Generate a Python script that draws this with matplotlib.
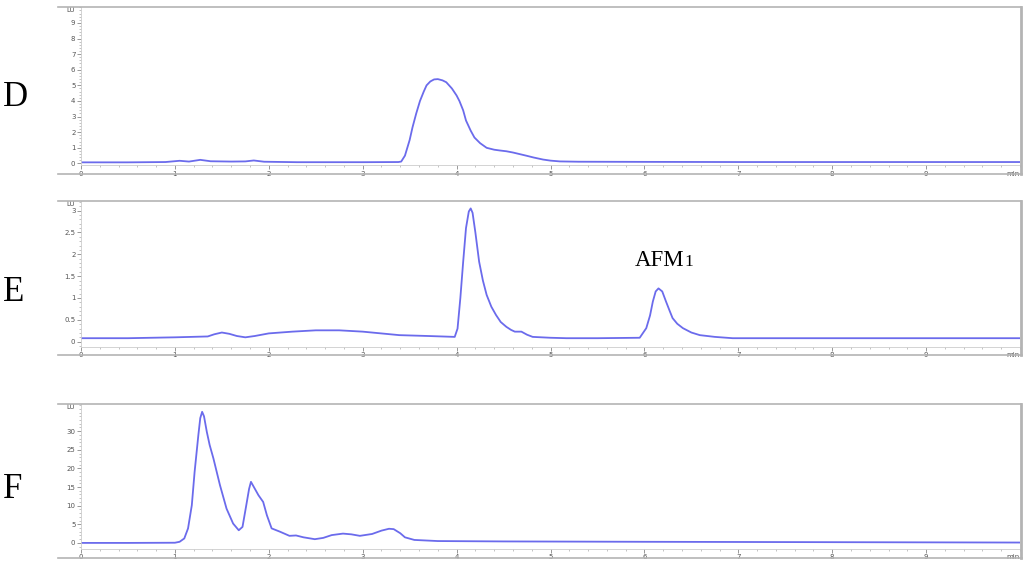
import matplotlib
matplotlib.use("Agg")
import matplotlib.pyplot as plt
from matplotlib.lines import Line2D
from matplotlib.ticker import MultipleLocator

W, H = 1024, 564
LINE_COLOR = "#6b6bec"
FRAME_COLOR = "#b4b4b4"
TICK_COLOR = "#555555"

# chromatogram D (time in min, signal in LU)
d_time = [0, 0.5, 0.9, 1.05, 1.15, 1.27, 1.38, 1.6, 1.75, 1.84, 1.95, 2.3, 3.0, 3.38,
          3.41, 3.45, 3.5, 3.53, 3.57, 3.61, 3.65, 3.68, 3.72, 3.76, 3.8, 3.85, 3.89,
          3.95, 4.0, 4.03, 4.07, 4.1, 4.15, 4.19, 4.25, 4.32, 4.4, 4.46, 4.53, 4.6,
          4.67, 4.74, 4.82, 4.92, 5.0, 5.1, 5.3, 6.0, 7.0, 8.0, 9.0, 10.0]
d_signal = [0.07, 0.07, 0.09, 0.17, 0.12, 0.23, 0.14, 0.12, 0.13, 0.19, 0.11, 0.08, 0.08, 0.09,
            0.12, 0.5, 1.5, 2.3, 3.2, 4.0, 4.6, 5.0, 5.25, 5.38, 5.4, 5.32, 5.2,
            4.8, 4.35, 4.0, 3.4, 2.75, 2.1, 1.66, 1.3, 1.0, 0.88, 0.83, 0.78, 0.7,
            0.6, 0.5, 0.38, 0.25, 0.18, 0.13, 0.11, 0.1, 0.09, 0.09, 0.09, 0.09]

# chromatogram E
e_time = [0, 0.5, 1.0, 1.35, 1.42, 1.5, 1.58, 1.66, 1.75, 1.85, 2.0, 2.25, 2.5, 2.75, 3.0,
          3.39, 3.7, 3.98, 4.01, 4.04, 4.07, 4.1, 4.13, 4.15, 4.17, 4.2, 4.24, 4.28,
          4.32, 4.37, 4.42, 4.47, 4.53, 4.58, 4.62, 4.69, 4.75, 4.81, 5.0, 5.17, 5.5,
          5.95, 6.02, 6.06, 6.09, 6.12, 6.15, 6.19, 6.23, 6.27, 6.3, 6.35, 6.41, 6.5,
          6.59, 6.75, 6.94, 7.5, 8.5, 10.0]
e_signal = [0.08, 0.08, 0.1, 0.12, 0.17, 0.21, 0.18, 0.13, 0.1, 0.13, 0.19, 0.23, 0.26, 0.26, 0.23,
            0.15, 0.13, 0.11, 0.3, 1.0, 1.83, 2.6, 2.98, 3.05, 2.95, 2.5, 1.83, 1.4,
            1.07, 0.8, 0.61, 0.45, 0.34, 0.27, 0.23, 0.23, 0.16, 0.11, 0.09, 0.08, 0.08,
            0.09, 0.31, 0.6, 0.92, 1.15, 1.22, 1.15, 0.92, 0.7, 0.54, 0.41, 0.31, 0.21,
            0.15, 0.11, 0.08, 0.08, 0.08, 0.08]

# chromatogram F
f_time = [0, 0.5, 1.0, 1.05, 1.1, 1.14, 1.18, 1.21, 1.25, 1.27, 1.29, 1.31, 1.34, 1.37,
          1.41, 1.48, 1.55, 1.62, 1.68, 1.72, 1.76, 1.79, 1.81, 1.85, 1.89, 1.94, 1.98,
          2.03, 2.12, 2.22, 2.29, 2.37, 2.49, 2.58, 2.67, 2.79, 2.88, 2.97, 3.1, 3.2,
          3.28, 3.33, 3.4, 3.45, 3.55, 3.8, 4.5, 6.0, 8.0, 10.0]
f_signal = [0.0, 0.0, 0.05, 0.3, 1.2, 3.9, 10.1, 19.1, 29.0, 33.5, 35.2, 34.0, 29.8, 26.3,
            22.7, 15.5, 9.2, 5.2, 3.4, 4.3, 10.1, 14.5, 16.4, 14.6, 12.8, 11.0, 7.4,
            3.9, 3.0, 1.9, 2.0, 1.5, 1.0, 1.35, 2.1, 2.5, 2.3, 1.9, 2.4, 3.3,
            3.8, 3.7, 2.6, 1.5, 0.8, 0.5, 0.4, 0.3, 0.2, 0.1]

# labelled y ticks per panel
d_yticks = [0, 1, 2, 3, 4, 5, 6, 7, 8, 9]
e_yticks = [0, 0.5, 1, 1.5, 2, 2.5, 3]
f_yticks = [0, 5, 10, 15, 20, 25, 30]

panels = [
    # label, time, signal, ylim, yticks, minor, box (left, top, right, bottom px), frame bottom, label y
    ("D", d_time, d_signal, (-0.1, 10.05), d_yticks, 0.2, (81, 6.5, 1020, 165), 174, 97),
    ("E", e_time, e_signal, (-0.11, 3.22), e_yticks, 0.1, (81, 201, 1020, 346.5), 355, 293),
    ("F", f_time, f_signal, (-1.5, 37.3), f_yticks, 1, (81, 404, 1020, 548.5), 558, 490),
]


def fig_box(l, t, r, b):
    return [l / W, 1 - b / H, (r - l) / W, (b - t) / H]


def fig_line(fig, x0, y0, x1, y1, lw):
    fig.add_artist(Line2D([x0 / W, x1 / W], [1 - y0 / H, 1 - y1 / H],
                          transform=fig.transFigure, color=FRAME_COLOR, lw=lw))


fig = plt.figure(figsize=(W / 100, H / 100), dpi=100)

for label, t, s, ylim, yt, minor, box, frame_bottom, label_y in panels:
    l, top, r, b = box
    ax = fig.add_axes(fig_box(l, top, r, b))
    ax.plot(t, s, color=LINE_COLOR, lw=1.3)
    ax.set_xlim(0, 10)
    ax.set_ylim(*ylim)

    ax.xaxis.set_minor_locator(MultipleLocator(0.2))
    ax.yaxis.set_minor_locator(MultipleLocator(minor))
    xt = list(range(0, 10))
    ax.set_xticks(xt)
    ax.set_xticklabels([str(v) for v in xt])
    ax.set_yticks(yt)
    ax.set_yticklabels([f"{v:g}" for v in yt])

    ax.tick_params(which="major", direction="out", length=3, width=0.6,
                   color="#888888", labelsize=5, labelcolor=TICK_COLOR, pad=1)
    ax.tick_params(which="minor", direction="out", length=1.5, width=0.5, color="#aaaaaa")

    for side in ("top", "right"):
        ax.spines[side].set_visible(False)
    for side in ("left", "bottom"):
        ax.spines[side].set_color("#cccccc")
        ax.spines[side].set_linewidth(0.6)

    ax.text(-0.006, 1.0, "LU", transform=ax.transAxes, ha="right", va="top",
            fontsize=5, color=TICK_COLOR)
    ax.text(1.0, -0.035, "min", transform=ax.transAxes, ha="right", va="top",
            fontsize=5, color=TICK_COLOR)

    # grey frame of the instrument print-out
    fig_line(fig, 58, top, 1021, top, 1.2)
    fig_line(fig, 58, frame_bottom, 1022, frame_bottom, 1.2)
    fig_line(fig, 1021, top, 1021, frame_bottom, 2.0)

    fig.text(3 / W, 1 - label_y / H, label, ha="left", va="center",
             fontsize=25, family="Liberation Serif")

afm = fig.text(635 / W, 1 - 266 / H, "AFM", ha="left", va="baseline",
               fontsize=16.5, family="Liberation Serif")
fig.canvas.draw()
afm_end = afm.get_window_extent().x1
fig.text(afm_end / W, 1 - 266 / H, "1", ha="left", va="baseline",
         fontsize=12.5, family="Liberation Serif")

fig.savefig("out.png", dpi=100)
